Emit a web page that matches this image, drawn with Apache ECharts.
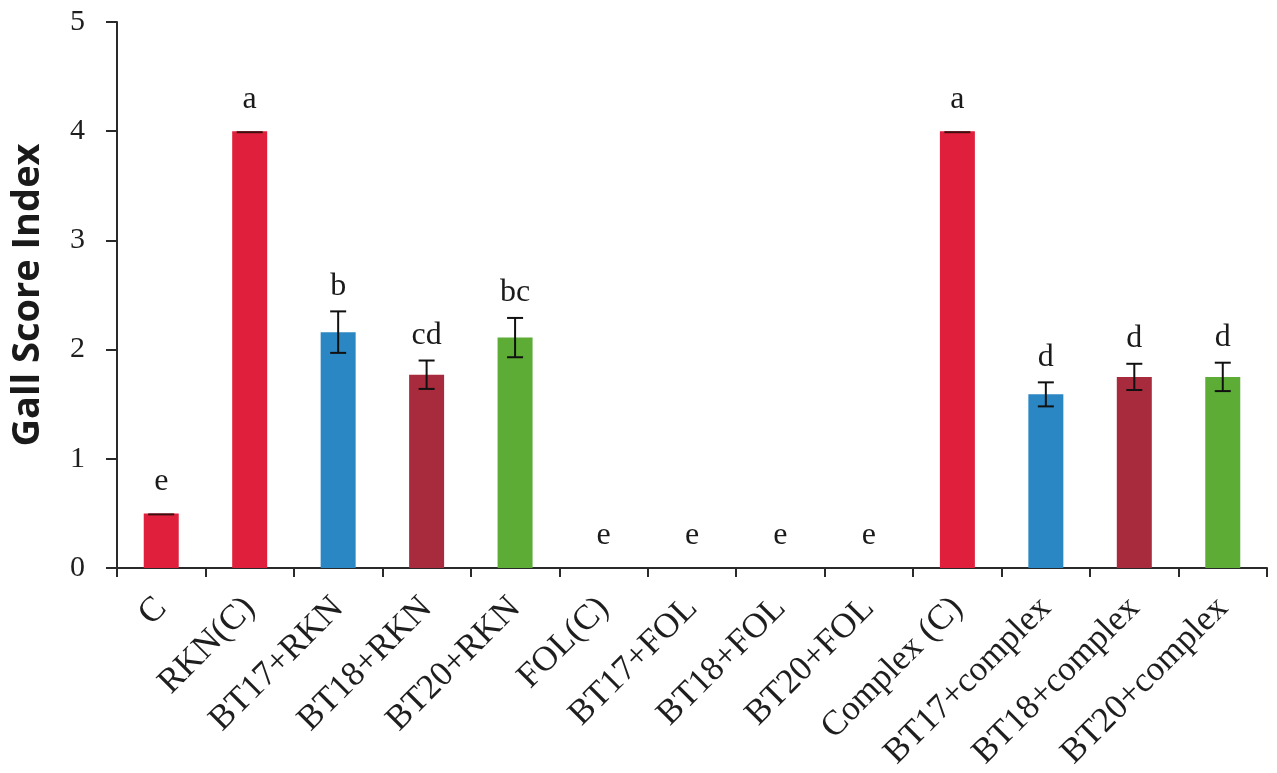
<!DOCTYPE html>
<html>
<head>
<meta charset="utf-8">
<script src="https://cdn.jsdelivr.net/npm/echarts@6/dist/echarts.min.js"></script>
<style>
html,body{margin:0;padding:0;background:#fff;}
#chart{width:1277px;height:773px;}
</style>
</head>
<body>
<div id="chart"></div>
<script>
const categories = ['C','RKN(C)','BT17+RKN','BT18+RKN','BT20+RKN','FOL(C)','BT17+FOL','BT18+FOL','BT20+FOL','Complex (C)','BT17+complex','BT18+complex','BT20+complex'];
const means = [0.5, 4.0, 2.16, 1.77, 2.11, 0, 0, 0, 0, 4.0, 1.59, 1.75, 1.75];
const errors = [0, 0, 0.19, 0.13, 0.18, 0, 0, 0, 0, 0, 0.11, 0.12, 0.13];
const letters = ['e','a','b','cd','bc','e','e','e','e','a','d','d','d'];
const treatments = ['control','control','BT17','BT18','BT20','control','BT17','BT18','BT20','control','BT17','BT18','BT20'];
const yTicks = [0, 1, 2, 3, 4, 5];

const palette = {control:'#e01f3c', BT17:'#2b87c3', BT18:'#a82b3d', BT20:'#5dac35'};
const serif = '"Liberation Serif", "Times New Roman", serif';

const chart = echarts.init(document.getElementById('chart'), null, {renderer:'canvas'});

const barData = means.map((v,i)=>({value:v, itemStyle:{color:palette[treatments[i]]}}));
const errData = means.map((v,i)=>[i, v, errors[i], letters[i]]);

chart.setOption({
  animation:false,
  backgroundColor:'#ffffff',
  grid:{left:117, right:10, top:22, bottom:205, containLabel:false, outerBoundsMode:'none'},
  xAxis:{
    type:'category',
    data:categories,
    boundaryGap:true,
    axisLine:{lineStyle:{color:'#2a2a2a', width:2}},
    axisTick:{show:true, length:9, lineStyle:{color:'#2a2a2a', width:2}},
    axisLabel:{rotate:45, interval:0, margin:35, fontFamily:serif, fontSize:35, color:'#1e1e1e'}
  },
  yAxis:{
    type:'value',
    min:yTicks[0], max:yTicks[yTicks.length-1], interval:1,
    name:'Gall Score Index',
    nameLocation:'middle',
    nameGap:70,
    nameRotate:90,
    nameTextStyle:{fontFamily:'"Open Sans", "Noto Sans", sans-serif', fontWeight:'bold', fontSize:38, color:'#1a1a1a'},
    splitLine:{show:false},
    axisLine:{show:true, lineStyle:{color:'#2a2a2a', width:2}},
    axisTick:{show:true, length:11, lineStyle:{color:'#2a2a2a', width:2}},
    axisLabel:{margin:32, fontFamily:serif, fontSize:30, color:'#1e1e1e'}
  },
  series:[
    {
      type:'bar',
      data:barData,
      barWidth:35,
      z:2
    },
    {
      type:'custom',
      data:errData,
      encode:{x:0, y:1},
      z:5,
      clip:false,
      renderItem:function(params, api){
        const idx = api.value(0);
        const mean = api.value(1);
        const err = api.value(2);
        const letter = errData[params.dataIndex][3];
        const hi = api.coord([idx, mean+err]);
        const lo = api.coord([idx, mean-err]);
        const capHalf = 8;
        const children = [];
        const lineStyle = {stroke:'#111', lineWidth:2};
        if (mean > 0) {
          if (err > 0) {
            children.push({type:'line', shape:{x1:hi[0], y1:hi[1], x2:lo[0], y2:lo[1]}, style:lineStyle});
            children.push({type:'line', shape:{x1:hi[0]-capHalf, y1:hi[1], x2:hi[0]+capHalf, y2:hi[1]}, style:lineStyle});
            children.push({type:'line', shape:{x1:lo[0]-capHalf, y1:lo[1], x2:lo[0]+capHalf, y2:lo[1]}, style:lineStyle});
          } else {
            children.push({type:'line', shape:{x1:hi[0]-13, y1:hi[1]+1, x2:hi[0]+13, y2:hi[1]+1}, style:{stroke:'#3a1010', lineWidth:2}});
          }
        }
        const gap = err > 0 ? 9 : 16;
        children.push({
          type:'text',
          x:hi[0], y:hi[1]-gap,
          style:{text:letter, textAlign:'center', textVerticalAlign:'bottom', fontFamily:serif, fontSize:32, fill:'#1a1a1a'}
        });
        return {type:'group', children:children};
      }
    }
  ]
});
</script>
</body>
</html>
